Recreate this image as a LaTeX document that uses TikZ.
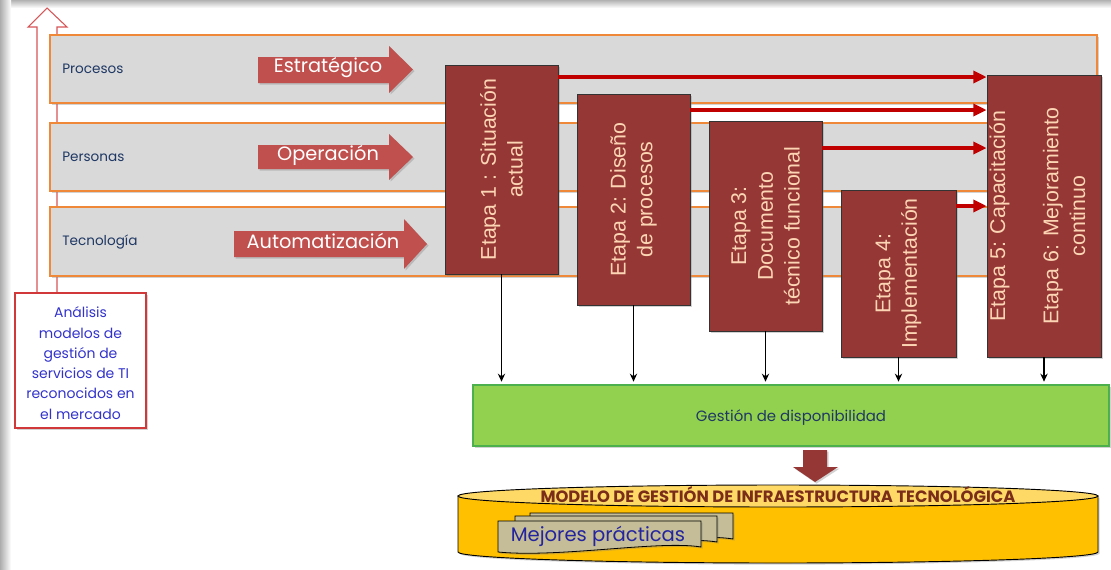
\documentclass[tikz,border=0pt]{standalone}
\usepackage{fontspec}
\newfontfamily\gothic{Poppins}
\newfontfamily\arialf{Liberation Sans}
\usetikzlibrary{shadows,fit,arrows.meta}
\definecolor{bandfill}{HTML}{D9D9D9}
\definecolor{bandline}{HTML}{F0883A}
\definecolor{blockred}{HTML}{C0504D}
\definecolor{etapa}{HTML}{953735}
\definecolor{etapatxt}{HTML}{FCD5B4}
\definecolor{conred}{HTML}{C00000}
\definecolor{navy}{HTML}{1F3864}
\definecolor{greenbox}{HTML}{92D050}
\definecolor{greenline}{HTML}{4CB04C}
\definecolor{cylbody}{HTML}{FFC000}
\definecolor{cyltop}{HTML}{FFD966}
\definecolor{docfill}{HTML}{C4BD97}
\definecolor{modelotxt}{HTML}{7A2E1A}
\definecolor{mejtxt}{HTML}{2424A0}
\definecolor{antxt}{HTML}{3333CC}
\definecolor{anline}{HTML}{D0383A}
\begin{document}
\begin{tikzpicture}[x=0.75pt,y=-0.75pt,
  shd/.style={drop shadow={opacity=0.35,shadow xshift=1.2pt,shadow yshift=-1.2pt}},
  band/.style={fill=bandfill,draw=bandline,line width=0.8pt,shd},
  bandlabel/.style={anchor=west,text=navy,font=\gothic\fontsize{10.2}{12}\selectfont,inner sep=0},
  blockarrow/.style={fill=blockred,shd},
  blocktext/.style={text=white,font=\gothic\fontsize{14.5}{16}\selectfont,inner sep=0},
  etapabox/.style={fill=etapa,draw=black!80,line width=0.6pt,inner sep=0,shd},
  etapatext/.style={rotate=90,align=center,text=etapatxt,font=\arialf\fontsize{16}{20}\selectfont,inner sep=0},
  redcon/.style={draw=conred,line width=3pt,-{Triangle[length=10pt,width=9pt]}},
  blkcon/.style={draw=black,line width=1.2pt,-{Stealth[length=6pt,width=5.5pt]}},
  greenst/.style={fill=greenbox,draw=greenline,line width=1pt,inner sep=0,shd},
  greentext/.style={text=navy,font=\gothic\fontsize{11.2}{13}\selectfont,inner sep=0},
  anbox/.style={fill=white,draw=anline,line width=0.9pt,inner sep=0,shd},
  antext/.style={align=center,text=antxt,font=\gothic\fontsize{10.5}{15.2}\selectfont,inner sep=0},
  upar/.style={fill=white,draw=anline!85,line width=0.8pt},
  docst/.style={fill=docfill,draw=black,line width=0.6pt,shd},
]
\useasboundingbox (0,0) rectangle (1111,569);
\fill[white] (0,0) rectangle (1111,569);
\shade[top color=black!30,bottom color=white] (0,0) rectangle (1111,8);
\shade[left color=black!32,right color=white] (0,0) rectangle (11,569);

% up arrow (behind bands)
\path[upar] (37,293) -- (37,27) -- (28,27) -- (47,8) -- (67,27) -- (57,27) -- (57,293);

% bands
\path[band] (50,35) rectangle (1097,103);
\path[band] (50,123) rectangle (1097,191);
\path[band] (50,207) rectangle (1097,276);
\node[bandlabel] (lproc) at (62,69) {Procesos};
\node[bandlabel] (lpers) at (62,157) {Personas};
\node[bandlabel] (ltec) at (62,242) {Tecnología};

% block arrows
\path[blockarrow] (258,57) -- (389,57) -- (389,46) -- (413,69.5) -- (389,93) -- (389,83) -- (258,83) -- cycle;
\path[blockarrow] (258,145) -- (389,145) -- (389,134) -- (413,157) -- (389,180) -- (389,169) -- (258,169) -- cycle;
\path[blockarrow] (234,231) -- (404,231) -- (404,219) -- (427,244) -- (404,269) -- (404,257) -- (234,257) -- cycle;
\node[blocktext] (aestr) at (328,68) {Estratégico};
\node[blocktext] (aoper) at (328,155) {Operación};
\node[blocktext] (aauto) at (323,241) {Automatización};

% analysis box
\node[anbox,fit={(15,293)(146,428)}] (an) {};
\node[antext] (antx) at ([yshift=-2pt]an.center) {Análisis\\modelos de\\gestión de\\servicios de TI\\reconocidos en\\el mercado};

% etapas
\node[etapabox,fit={(445,65)(558,274)}] (e1) {};
\node[etapabox,fit={(577,94)(690,305)}] (e2) {};
\node[etapabox,fit={(709,121)(822,331)}] (e3) {};
\node[etapabox,fit={(841,190)(956,357)}] (e4) {};
\node[etapabox,fit={(987,75)(1101,357)}] (e5) {};
\node[etapatext] (t1) at (e1.center) {Etapa 1 : Situación\\actual};
\node[etapatext] (t2) at (e2.center) {Etapa 2: Diseño\\de procesos};
\node[etapatext] (t3) at (e3.center) {Etapa 3:\\Documento\\técnico funcional};
\node[etapatext] (t4) at (e4.center) {Etapa 4:\\Implementación};
\node[etapatext] (t5) at ([xshift=-5pt]e5.center) {Etapa 5: Capacitación\\[20pt]Etapa 6: Mejoramiento\\continuo};

% red connectors
\draw[redcon] (e1.east |- 0,77) -- (e5.west |- 0,77);
\draw[redcon] (e2.east |- 0,110) -- (e5.west |- 0,110);
\draw[redcon] (e3.east |- 0,148) -- (e5.west |- 0,148);
\draw[redcon] (e4.east |- 0,206) -- (e5.west |- 0,206);

% green box
\node[greenst,fit={(473,385)(1109,446)}] (gd) {};
\node[greentext] (gdt) at ([yshift=-1.5pt]gd.center) {Gestión de disponibilidad};
\draw[blkcon,shorten >=2pt] (e1.south) -- (e1.south |- gd.north);
\draw[blkcon,shorten >=2pt] (e2.south) -- (e2.south |- gd.north);
\draw[blkcon,shorten >=2pt] (e3.south) -- (e3.south |- gd.north);
\draw[blkcon,shorten >=2pt] (e4.south) -- (e4.south |- gd.north);
\draw[blkcon,shorten >=2pt] (e5.south) -- (e5.south |- gd.north);

% down block arrow
\path[fill=etapa,shd] (803,450) -- (827,450) -- (827,467) -- (838,467) -- (815,482) -- (793,467) -- (803,467) -- cycle;

% cylinder
\path[fill=cylbody,draw=black,line width=0.7pt,shd] (458,496) -- (458,552) arc[start angle=180,end angle=0,x radius=320,y radius=11] -- (1098,496) -- cycle;
\path[fill=cyltop,draw=black,line width=0.7pt] (778,496) ellipse[x radius=320,y radius=11];
\node[text=modelotxt,font=\gothic\bfseries\fontsize{12.3}{14}\selectfont,inner sep=0] (modelo) at (778,495) {MODELO DE GESTIÓN DE INFRAESTRUCTURA TECNOLÓGICA};

% documents
\path[docst] (530,513) -- (733,513) -- (733,539) .. controls (692,532) and (592,550) .. (530,544) -- cycle;
\path[docst] (515,516) -- (717,516) -- (717,542) .. controls (676,535) and (576,553) .. (515,547) -- cycle;
\path[docst] (498,521) -- (701,521) -- (701,547) .. controls (660,540) and (560,558) .. (498,552) -- cycle;
\node[text=mejtxt,font=\gothic\fontsize{14.7}{16}\selectfont,inner sep=0] (mej) at (598,536) {Mejores prácticas};
\end{tikzpicture}
\end{document}
